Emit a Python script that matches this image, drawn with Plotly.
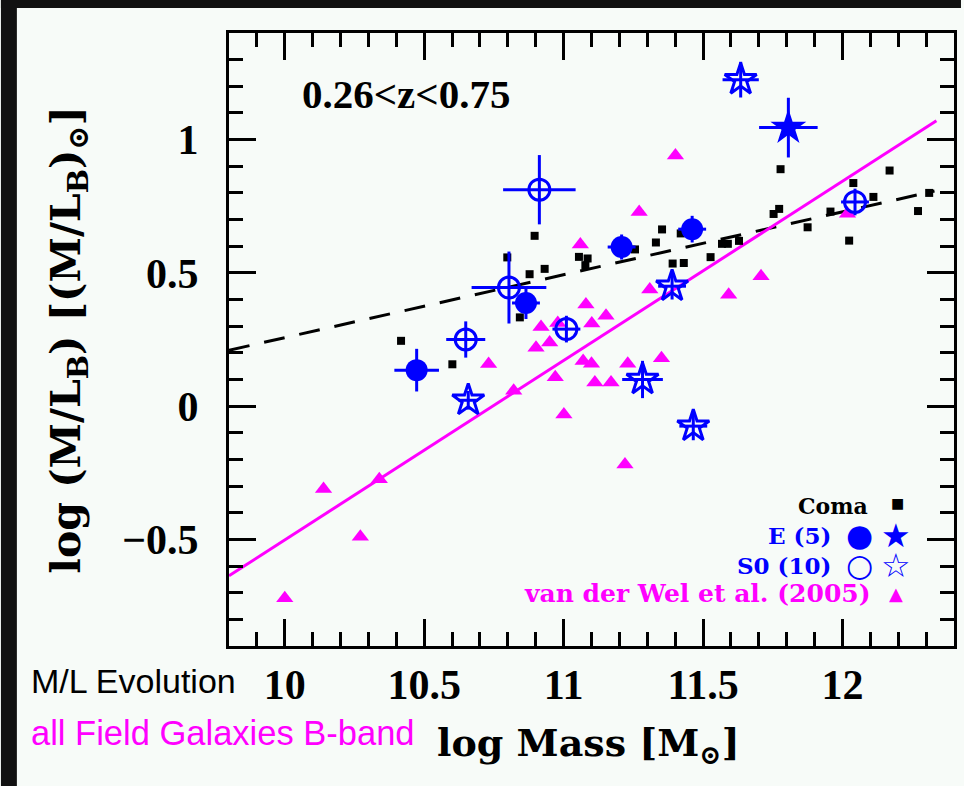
import plotly.graph_objects as go

# ---------------- data ----------------
# Coma cluster galaxies (black squares)
coma_x = [10.417, 10.601, 10.843, 10.896, 10.798, 10.878, 10.932, 11.055, 11.086, 11.078,
          11.256, 11.331, 11.353, 11.391, 11.431, 11.420, 11.527, 11.568, 11.589, 11.629,
          11.753, 11.773, 11.778, 11.875, 11.957, 12.039, 12.024, 12.111, 12.169, 12.271, 12.311]
coma_y = [0.245, 0.157, 0.333, 0.639, 0.558, 0.495, 0.515, 0.560, 0.554, 0.529,
          0.588, 0.614, 0.663, 0.535, 0.537, 0.648, 0.559, 0.609, 0.609, 0.620,
          0.721, 0.740, 0.889, 0.671, 0.730, 0.837, 0.621, 0.785, 0.884, 0.732, 0.800]

# van der Wel et al. (2005) field galaxies (magenta triangles)
vdw_x = [10.000, 10.139, 10.271, 10.339, 10.731, 10.821, 11.001, 10.919, 10.901, 10.950,
         10.970, 10.979, 11.060, 11.080, 11.152, 11.101, 11.070, 11.100, 11.112, 11.170,
         11.230, 11.351, 11.220, 11.271, 11.401, 11.309, 11.592, 11.708, 12.018]
vdw_y = [-0.721, -0.311, -0.490, -0.274, 0.158, 0.058, -0.031, 0.297, 0.219, 0.239,
         0.108, 0.312, 0.606, 0.381, 0.339, 0.310, 0.169, 0.159, 0.089, 0.089,
         0.159, 0.180, -0.219, 0.728, 0.940, 0.438, 0.418, 0.487, 0.722]

# E galaxies: filled circles / filled star
e_circ_x = [10.473, 10.865, 11.208, 11.461]
e_circ_y = [0.135, 0.387, 0.597, 0.664]
e_circ_ex = [0.080, 0.050, 0.050, 0.050]
e_circ_ey = [0.080, 0.060, 0.047, 0.050]
e_star_x = [11.806]
e_star_y = [1.045]
e_star_ex = [0.105]
e_star_ey = [0.112]

# S0 galaxies: open circles / open stars
s0_circ_x = [10.649, 10.804, 10.913, 11.010, 12.045]
s0_circ_y = [0.250, 0.445, 0.812, 0.289, 0.766]
s0_circ_ex = [0.070, 0.134, 0.130, 0.050, 0.050]
s0_circ_ey = [0.068, 0.135, 0.130, 0.050, 0.050]
s0_star_x = [10.658, 11.389, 11.283, 11.465, 11.635]
s0_star_y = [0.022, 0.450, 0.100, -0.075, 1.225]
s0_star_ex = [0.035, 0.050, 0.073, 0.050, 0.065]
s0_star_ey = [0.035, 0.050, 0.070, 0.053, 0.067]

# linear relations: (slope, value at log M = 11, x-extent)
coma_fit = dict(slope=0.236, at11=0.493, xr=[9.8, 12.33])
field_fit = dict(slope=0.673, at11=0.171, xr=[9.8, 12.337])

x_ticks = [10, 10.5, 11, 11.5, 12]
x_ticklabels = ["10", "10.5", "11", "11.5", "12"]
y_ticks = [-0.5, 0, 0.5, 1]
y_ticklabels = ["\u22120.5", "0", "0.5", "1"]

# ---------------- styles ----------------
BLUE = "#0000ff"
MAG = "#ff00ff"
BG = "#f7fbf8"
DARK = "#111111"
SERIF = "Liberation Serif"
SLAB = "DejaVu Serif"


def line_y(fit):
    return [fit["at11"] + fit["slope"] * (x - 11) for x in fit["xr"]]


fig = go.Figure()

fig.add_trace(go.Scatter(x=coma_fit["xr"], y=line_y(coma_fit), mode="lines",
                         line=dict(color="black", width=3, dash="21px,15px"),
                         hoverinfo="skip"))
fig.add_trace(go.Scatter(x=field_fit["xr"], y=line_y(field_fit), mode="lines",
                         line=dict(color=MAG, width=3), hoverinfo="skip"))
fig.add_trace(go.Scatter(x=coma_x, y=coma_y, mode="markers",
                         marker=dict(symbol="square", size=8, color="black")))
fig.add_trace(go.Scatter(x=vdw_x, y=vdw_y, mode="markers",
                         marker=dict(symbol="triangle-up", size=15, color=MAG)))


def blue_pts(x, y, ex, ey, symbol, size, lw=0):
    return go.Scatter(
        x=x, y=y, mode="markers",
        marker=dict(symbol=symbol, size=size, color=BLUE,
                    line=dict(color=BLUE, width=lw)),
        error_x=dict(type="data", array=ex, color=BLUE, thickness=3, width=0),
        error_y=dict(type="data", array=ey, color=BLUE, thickness=3, width=0))


fig.add_trace(blue_pts(e_circ_x, e_circ_y, e_circ_ex, e_circ_ey, "circle", 22))
fig.add_trace(blue_pts(e_star_x, e_star_y, e_star_ex, e_star_ey, "star", 27))
fig.add_trace(blue_pts(s0_circ_x, s0_circ_y, s0_circ_ex, s0_circ_ey, "circle-open", 21, 3))
fig.add_trace(blue_pts(s0_star_x, s0_star_y, s0_star_ex, s0_star_ey, "star-open", 24, 3))

axis_common = dict(
    showgrid=False, zeroline=False, showline=True, linecolor="black", linewidth=3,
    mirror="allticks", ticks="inside", ticklen=27, tickwidth=3, tickcolor="black",
    tickfont=dict(family=SERIF, size=42, color="black", weight="bold"),
    minor=dict(ticks="inside", ticklen=14, tickwidth=3, tickcolor="black", dtick=0.1),
)

fig.update_xaxes(range=[9.8, 12.4], tickvals=x_ticks, ticktext=x_ticklabels,
                 ticklabelstandoff=0, **axis_common)
fig.update_yaxes(range=[-0.9, 1.4], tickvals=y_ticks, ticktext=y_ticklabels,
                 ticklabelstandoff=19, **axis_common)

# page geometry helpers (plot area: x 229..957 px, y 33..646 px)
PL, PR, PT, PB = 229, 957, 33, 646


def px(x):
    return (x - PL) / (PR - PL)


def py(y):
    return (PB - y) / (PB - PT)


shapes = [
    dict(type="rect", xref="paper", yref="paper", x0=px(0), x1=px(16), y0=py(786), y1=py(0),
         fillcolor=DARK, line=dict(width=0), layer="above"),
    dict(type="rect", xref="paper", yref="paper", x0=px(0), x1=px(964), y0=py(8), y1=py(0),
         fillcolor=DARK, line=dict(width=0), layer="above"),
]

ann = []


def add_text(text, x, y, size, color="black", family=SLAB, xanchor="center", angle=0):
    ann.append(dict(text=text, x=px(x), y=py(y), xref="paper", yref="paper",
                    showarrow=False, xanchor=xanchor, yanchor="middle", textangle=angle,
                    font=dict(family=family, size=size, color=color)))


add_text("<b>log (M/L<sub>B</sub>) [(M/L<sub>B</sub>)<sub>\u2299</sub>]</b>", 68, 340, 41, angle=-90)
add_text("<b>log Mass [M<sub>\u2299</sub>]</b>", 590, 745, 38)
add_text("<b>0.26&lt;z&lt;0.75</b>", 407, 94, 41, family=SERIF)
add_text("M/L Evolution", 28, 681, 34, family="Liberation Sans", xanchor="left")
add_text("all Field Galaxies B-band", 28, 733, 34.5, color=MAG, family="Liberation Sans",
         xanchor="left")

# legend
add_text("<b>Coma</b>", 873, 506, 22, xanchor="right")
add_text("\u25a0", 900, 503, 14, family="DejaVu Sans")
add_text("<b>E (5)</b>", 836, 535, 23, color=BLUE, xanchor="right")
add_text("\u25cf", 862, 535, 31, color=BLUE, family="DejaVu Sans")
add_text("\u2605", 899, 535, 33, color=BLUE, family="DejaVu Sans")
add_text("<b>S0 (10)</b>", 836, 565, 23, color=BLUE, xanchor="right")
add_text("\u25cb", 862, 565, 31, color=BLUE, family="DejaVu Sans")
add_text("\u2606", 899, 565, 33, color=BLUE, family="DejaVu Sans")
add_text("<b>van der Wel et al. (2005)</b>", 876, 593, 25, color=MAG, xanchor="right")
add_text("\u25b2", 899, 593, 18, color=MAG, family="DejaVu Sans")

fig.update_layout(
    width=964, height=786,
    margin=dict(l=PL, r=964 - PR, t=PT, b=786 - PB, pad=0),
    paper_bgcolor=BG, plot_bgcolor=BG,
    showlegend=False,
    shapes=shapes, annotations=ann,
)

fig.write_html("out.html")
